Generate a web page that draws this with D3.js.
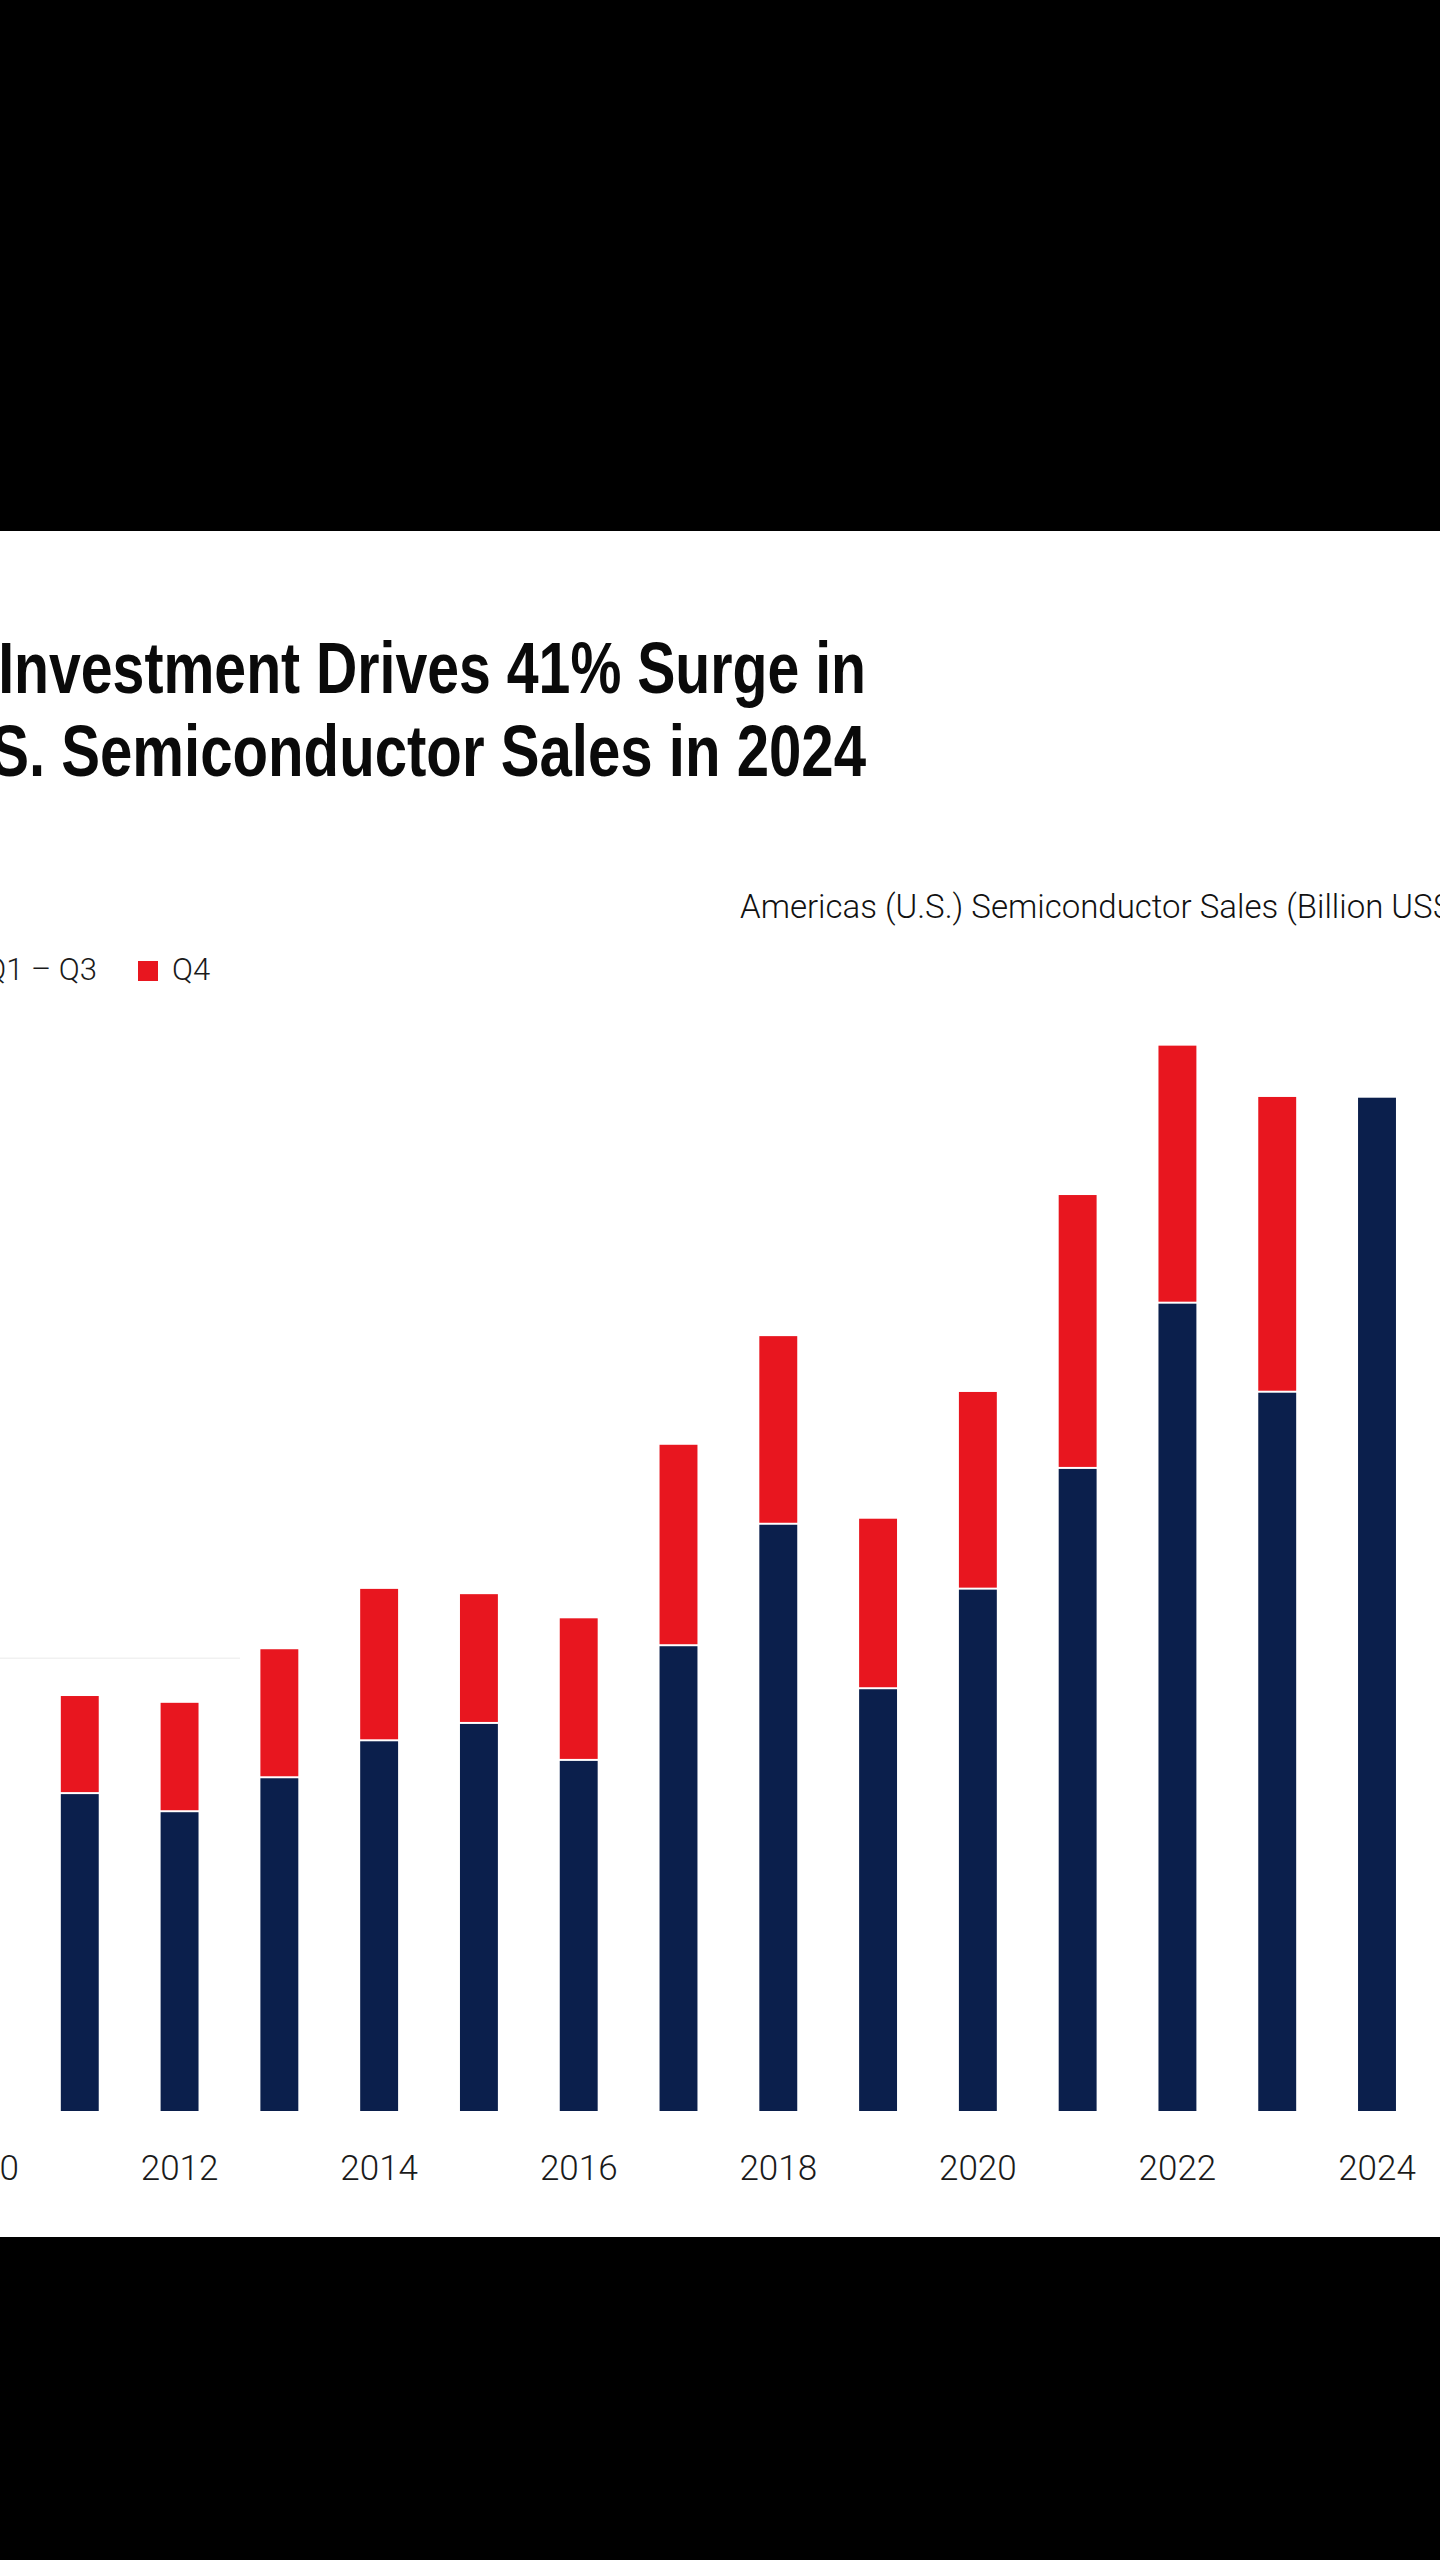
<!DOCTYPE html>
<html>
<head>
<meta charset="utf-8">
<script src="https://cdn.jsdelivr.net/npm/d3@7"></script>
<style>
  html, body { margin: 0; padding: 0; background: #000; }
  svg { display: block; }
</style>
</head>
<body>
<svg id="chart" width="1440" height="2560"></svg>
<script>
// ---- data ----
const years   = [2010, 2011, 2012, 2013, 2014, 2015, 2016, 2017, 2018, 2019, 2020, 2021, 2022, 2023, 2024];
const q1q3    = [40.0, 42.0, 39.6, 44.1, 49.0, 51.3, 46.4, 61.6, 77.7, 55.9, 69.1, 85.1, 107.0, 95.2, 134.3];
const q4      = [13.7, 13.0, 14.5, 17.1, 20.2, 17.2, 18.9, 26.7, 25.0, 22.6, 26.2, 36.3, 34.2, 39.2, 0];
const tickYears = [2010, 2012, 2014, 2016, 2018, 2020, 2022, 2024];
const gridValues = [60];
const seriesNames = ["Q1 – Q3", "Q4"];
const titleLines = ["Investment Drives 41% Surge in", "U.S. Semiconductor Sales in 2024"];
const titleVisible = ["Investment Drives 41% Surge in", "S. Semiconductor Sales in 2024"];
const subtitle = "Americas (U.S.) Semiconductor Sales (Billion US$)";

const NAVY = "#0b1f4c";
const RED  = "#e8161f";

const svg = d3.select("#chart");
const W = 1440, H = 2560;

// black page with white panel
svg.append("rect").attr("width", W).attr("height", H).attr("fill", "#000");
const panelTop = 531, panelBottom = 2237;
svg.append("rect").attr("x", 0).attr("y", panelTop).attr("width", W)
   .attr("height", panelBottom - panelTop).attr("fill", "#fff");

// scales
const x = d3.scaleBand().domain(years).range([-69.9, 1426.9])
  .paddingInner(0.62).paddingOuter(0.31);
const baseY = 2111;
const y = d3.scaleLinear().domain([0, 140]).range([baseY, baseY - 140 * 7.545]);

// faint gridline remnant
svg.append("g").selectAll("line").data(gridValues).join("line")
  .attr("x1", 0).attr("x2", 240)
  .attr("y1", d => y(d)).attr("y2", d => y(d))
  .attr("stroke", "#f1f1f1").attr("stroke-width", 1.5);

// stacked bars
const rows = years.map((yr, i) => ({ year: yr, q13: q1q3[i], q4: q4[i] }));
const stack = d3.stack().keys(["q13", "q4"])(rows);
const colors = { q13: NAVY, q4: RED };
const GAP = 2;

svg.append("g").selectAll("g").data(stack).join("g")
  .attr("fill", s => colors[s.key])
  .selectAll("rect").data(s => s.map(p => ({ p, key: s.key })))
  .join("rect")
  .attr("x", d => x(d.p.data.year))
  .attr("width", x.bandwidth())
  .attr("y", d => y(d.p[1]))
  .attr("height", d => {
    const h = y(d.p[0]) - y(d.p[1]) - (d.key === "q4" ? GAP : 0);
    return Math.max(0, h);
  });

// x axis
const axis = d3.axisBottom(x).tickValues(tickYears).tickSize(0).tickPadding(0);
const gAxis = svg.append("g").attr("transform", `translate(0,${baseY})`).call(axis);
gAxis.select(".domain").remove();
gAxis.selectAll("text")
  .attr("y", 69).attr("dy", 0)
  .attr("fill", "#1a1a1a")
  .style("font-family", "Roboto, 'Liberation Sans', sans-serif")
  .style("font-weight", 300)
  .style("font-size", "35px");

// title (bold, horizontally condensed to match the narrow face)
const titleFont = t => t
  .attr("text-anchor", "end")
  .attr("fill", "#0a0a0a")
  .style("font-family", "'Liberation Sans', Arial, sans-serif")
  .style("font-weight", 700)
  .style("font-size", "72px");
const titleTargets = [868, 876];
titleLines.forEach((line, i) => {
  const probe = svg.append("text").call(titleFont).text(titleVisible[i]);
  const len = probe.node().getComputedTextLength();
  probe.remove();
  const s = titleTargets[i] / len;
  svg.append("g")
    .attr("transform", `translate(866,${693 + i * 83}) scale(${s},1)`)
    .append("text").attr("x", 0).attr("y", 0)
    .call(titleFont).text(line);
});

// subtitle
svg.append("text")
  .attr("x", 740).attr("y", 918)
  .attr("fill", "#111")
  .style("font-family", "Roboto, 'Liberation Sans', sans-serif")
  .style("font-weight", 300)
  .style("font-size", "33px")
  .text(subtitle);

// legend
const legend = svg.append("g");
const legendItems = [
  { name: seriesNames[0], color: NAVY, sq: -110, tx: 97, anchor: "end" },
  { name: seriesNames[1], color: RED, sq: 138, tx: 172, anchor: "start" }
];
legend.selectAll("rect").data(legendItems).join("rect")
  .attr("x", d => d.sq).attr("y", 961).attr("width", 20).attr("height", 20)
  .attr("fill", d => d.color);
legend.selectAll("text").data(legendItems).join("text")
  .attr("x", d => d.tx).attr("y", 980)
  .attr("text-anchor", d => d.anchor)
  .attr("fill", "#1a1a1a")
  .style("font-family", "Roboto, 'Liberation Sans', sans-serif")
  .style("font-weight", 300)
  .style("font-size", "31px")
  .text(d => d.name);
</script>
</body>
</html>
